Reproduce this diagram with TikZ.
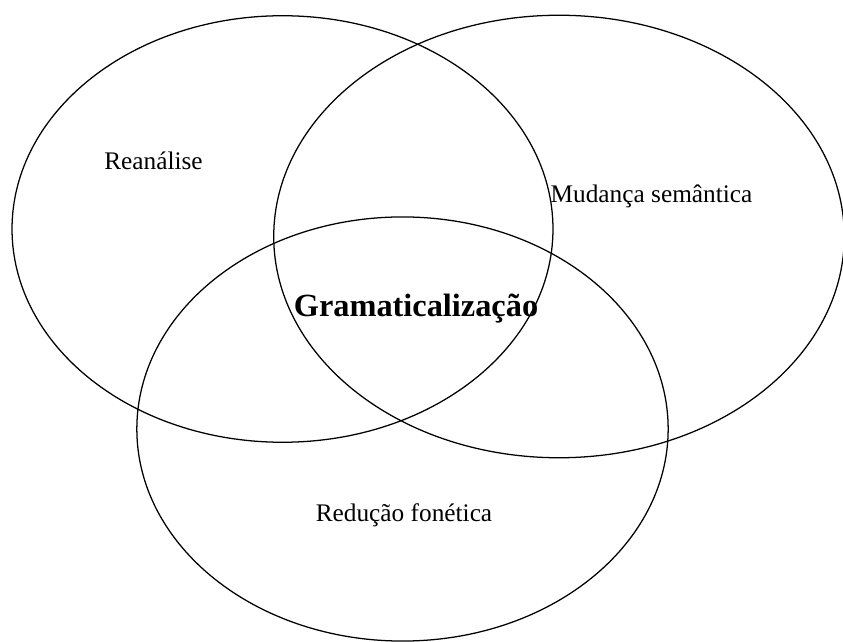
\documentclass[tikz,border=0pt]{standalone}
\usepackage{fontspec}
\setmainfont{Liberation Serif}
\usepackage{tikz}
\usetikzlibrary{positioning}

\tikzset{
    venn/.style={draw=black, line width=0.9pt},
    label/.style={anchor=base, inner sep=0pt, font=\fontsize{18}{20}\selectfont},
    core/.style={anchor=base, inner sep=0pt, font=\fontsize{23}{26}\selectfont\bfseries}
}

\begin{document}
\begin{tikzpicture}[x=0.025cm, y=-0.025cm]
    \useasboundingbox (0,0) rectangle (843,642);

    % the three circles
    \coordinate (reanalise) at (282.5,229);
    \coordinate (mudanca) at (559,236.5);
    \coordinate (reducao) at (402.5,429);
    \draw[venn] (reanalise) ellipse [x radius=6.76cm, y radius=5.33cm];
    \draw[venn] (mudanca) ellipse [x radius=7.13cm, y radius=5.53cm];
    \draw[venn] (reducao) ellipse [x radius=6.64cm, y radius=5.3cm];

    % labels
    \node[label] (lblA) at (153.5,170) {Reanálise};
    \node[label] (lblB) at (651.5,203) {Mudança semântica};
    \node[label] (lblC) at (404,522) {Redução fonética};
    \node[core] (centre) at (416,316.5) {Gramaticalização};
\end{tikzpicture}
\end{document}
